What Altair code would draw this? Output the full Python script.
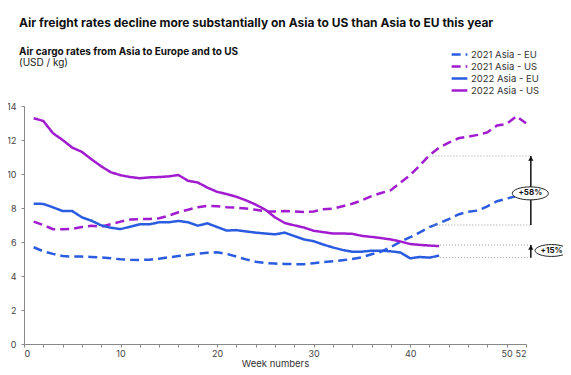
import altair as alt
import pandas as pd

FONT = "Inter"

# ---------------- data ----------------
weeks_2021 = list(range(1, 53))
weeks_2022 = list(range(1, 44))

eu_2021 = [5.69, 5.45, 5.30, 5.18, 5.14, 5.14, 5.12, 5.10, 5.04, 4.98,
           4.95, 4.94, 4.96, 5.02, 5.10, 5.17, 5.24, 5.31, 5.37, 5.39,
           5.30, 5.14, 4.98, 4.84, 4.76, 4.73, 4.71, 4.70, 4.69, 4.75,
           4.82, 4.87, 4.93, 5.00, 5.10, 5.28, 5.43, 5.70, 6.02, 6.28,
           6.57, 6.88, 7.10, 7.35, 7.62, 7.78, 7.85, 8.10, 8.40, 8.55,
           8.70, 8.80]
us_2021 = [7.20, 7.00, 6.75, 6.75, 6.78, 6.88, 6.95, 6.90, 7.05, 7.20,
           7.32, 7.35, 7.35, 7.40, 7.55, 7.75, 7.90, 8.05, 8.12, 8.10,
           8.05, 8.02, 7.97, 7.90, 7.80, 7.80, 7.82, 7.80, 7.76, 7.80,
           7.92, 7.96, 8.10, 8.25, 8.45, 8.70, 8.88, 9.05, 9.50, 9.94,
           10.50, 11.10, 11.55, 11.85, 12.10, 12.20, 12.30, 12.45, 12.85, 12.95,
           13.40, 12.98]
eu_2022 = [8.25, 8.24, 8.04, 7.82, 7.82, 7.45, 7.25, 6.98, 6.84, 6.76,
           6.90, 7.04, 7.04, 7.16, 7.16, 7.24, 7.16, 6.96, 7.10, 6.88,
           6.67, 6.70, 6.62, 6.55, 6.50, 6.45, 6.55, 6.35, 6.15, 6.05,
           5.85, 5.68, 5.53, 5.43, 5.43, 5.49, 5.49, 5.45, 5.38, 5.04,
           5.12, 5.08, 5.20]
us_2022 = [13.28, 13.12, 12.40, 12.00, 11.55, 11.30, 10.86, 10.45, 10.10, 9.93,
           9.82, 9.75, 9.80, 9.82, 9.86, 9.94, 9.60, 9.50, 9.20, 8.95,
           8.82, 8.66, 8.45, 8.20, 7.90, 7.45, 7.12, 6.98, 6.85, 6.66,
           6.58, 6.50, 6.50, 6.48, 6.36, 6.30, 6.23, 6.15, 6.03, 5.88,
           5.83, 5.79, 5.76]

series_names = ["2021 Asia - EU", "2021 Asia - US", "2022 Asia - EU", "2022 Asia - US"]
series_colors = ["#2b5ce0", "#a11ccf", "#2b5ce0", "#a11ccf"]
series_dash = [[9, 5], [9, 5], [1, 0], [1, 0]]

x_tick_values = list(range(0, 53, 2))
x_label_values = [0, 10, 20, 30, 40, 50, 52]
y_tick_values = list(range(0, 15, 2))

# annotation values
ref_levels = [11.06, 7.0, 5.82, 5.08]
ref_start = [42.0, 42.4, 43.1, 43.1]
ref_end = 52.5
arrow_low = [7.0, 5.08]
arrow_high = [11.06, 5.82]
badge_text = ["+58%", "+15%"]
badge_week = [52.45, 54.65]
badge_value = [8.86, 5.5]
badge_size = [1300, 1090]

title_text = "Air freight rates decline more substantially on Asia to US than Asia to EU this year"
subtitle_text = "Air cargo rates from Asia to Europe and to US"
unit_text = "(USD / kg)"

# ---------------- tables ----------------
rows = []
for name, wks, vals in zip(series_names,
                           [weeks_2021, weeks_2021, weeks_2022, weeks_2022],
                           [eu_2021, us_2021, eu_2022, us_2022]):
    for w, v in zip(wks, vals):
        rows.append({"week": w, "value": v, "series": name})
df = pd.DataFrame(rows)

refs = pd.DataFrame({"level": ref_levels, "start": ref_start,
                     "end": [ref_end] * len(ref_levels)})
arrows = pd.DataFrame({"low": arrow_low, "high": arrow_high,
                       "x": [ref_end] * len(arrow_low)})
badges = pd.DataFrame({"label": badge_text, "week": badge_week,
                       "value": badge_value, "sz": badge_size})

xscale = alt.Scale(domain=[0, 52], nice=False, zero=False)
yscale = alt.Scale(domain=[0, 14], nice=False)

label_list = ",".join(str(v) for v in x_label_values)
x_axis = alt.Axis(values=x_tick_values,
                  labelExpr=f"indexof([{label_list}], datum.value) >= 0 ? datum.label : ''",
                  labelOverlap=False, grid=False, tickSize=3, labelPadding=2,
                  labelFontSize=9, labelColor="#444", labelFont=FONT,
                  domainColor="#888", tickColor="#888",
                  title="Week numbers", titleFontSize=9.5, titleFontWeight="normal",
                  titleColor="#333", titleFont=FONT, titlePadding=0)
y_axis = alt.Axis(values=y_tick_values, grid=False, tickSize=3, labelOverlap=False,
                  labelFontSize=9, labelColor="#444", labelFont=FONT, labelPadding=5,
                  domainColor="#888", tickColor="#888", title=None)


def X(field):
    return alt.X(field, type="quantitative", scale=xscale, axis=x_axis)


def Y(field):
    return alt.Y(field, type="quantitative", scale=yscale, axis=y_axis)


lines = alt.Chart(df).mark_line(strokeWidth=2.5).encode(
    x=X("week"),
    y=Y("value"),
    color=alt.Color("series:N", scale=alt.Scale(domain=series_names, range=series_colors),
                    legend=alt.Legend(title=None)),
    strokeDash=alt.StrokeDash("series:N", scale=alt.Scale(domain=series_names, range=series_dash),
                              legend=alt.Legend(title=None)),
)

ref_rules = alt.Chart(refs).mark_rule(color="#9a9a9a", strokeWidth=1, strokeDash=[1, 2]).encode(
    x=X("start"), x2="end:Q", y=Y("level"))

arrow_shaft = alt.Chart(arrows).mark_rule(color="#111", strokeWidth=1.5).encode(
    x=X("x"), y=Y("low"), y2="high:Q")
arrow_head = alt.Chart(arrows).mark_point(shape="triangle-up", filled=True, color="#111",
                                          size=28, opacity=1).encode(
    x=X("x"), y=Y("high"), yOffset=alt.value(2.5))

ellipse_path = "M -1 0 A 1 0.36 0 1 1 1 0 A 1 0.36 0 1 1 -1 0 Z"
badge_shape = alt.Chart(badges).mark_point(filled=True, fill="white", stroke="#222",
                                           strokeWidth=1, opacity=1).encode(
    x=X("week"), y=Y("value"), shape=alt.value(ellipse_path),
    size=alt.Size("sz:Q", scale=None, legend=None))
badge_label = alt.Chart(badges).mark_text(font=FONT, fontSize=8, fontWeight="bold",
                                          color="#111", align="center", baseline="middle").encode(
    x=X("week"), y=Y("value"), text="label:N")

head_data = pd.DataFrame({"t": [title_text]})
title_mark = alt.Chart(head_data).mark_text(font=FONT, fontSize=12, fontWeight="bold",
                                            color="#111", align="left", baseline="middle").encode(
    x=alt.value(-5), y=alt.value(-83), text="t:N")
sub_data = pd.DataFrame({"t": [subtitle_text]})
sub_mark = alt.Chart(sub_data).mark_text(font=FONT, fontSize=10, fontWeight="bold",
                                         color="#111", align="left", baseline="middle").encode(
    x=alt.value(-5), y=alt.value(-54), text="t:N")
unit_data = pd.DataFrame({"t": [unit_text]})
unit_mark = alt.Chart(unit_data).mark_text(font=FONT, fontSize=10, color="#222",
                                           align="left", baseline="middle").encode(
    x=alt.value(-5), y=alt.value(-43), text="t:N")

chart = alt.layer(
    lines, ref_rules, arrow_shaft, arrow_head, badge_shape, badge_label,
    title_mark, sub_mark, unit_mark
).properties(
    width=502, height=238,
    autosize=alt.AutoSizeParams(type="none"),
    padding={"left": 16, "top": 98, "right": 37, "bottom": 23},
).configure_view(stroke=None).configure_axis(
    labelOverlap=False,
).configure_legend(
    orient="none", legendX=429, legendY=-58,
    symbolType="M -1.5 0 L 1.5 0", symbolSize=110, symbolStrokeWidth=2.5,
    labelFont=FONT, labelFontSize=9.5, labelColor="#333", labelOffset=5,
    rowPadding=0,
)

chart.save("out.html", embed_options={"renderer": "svg", "actions": False})
